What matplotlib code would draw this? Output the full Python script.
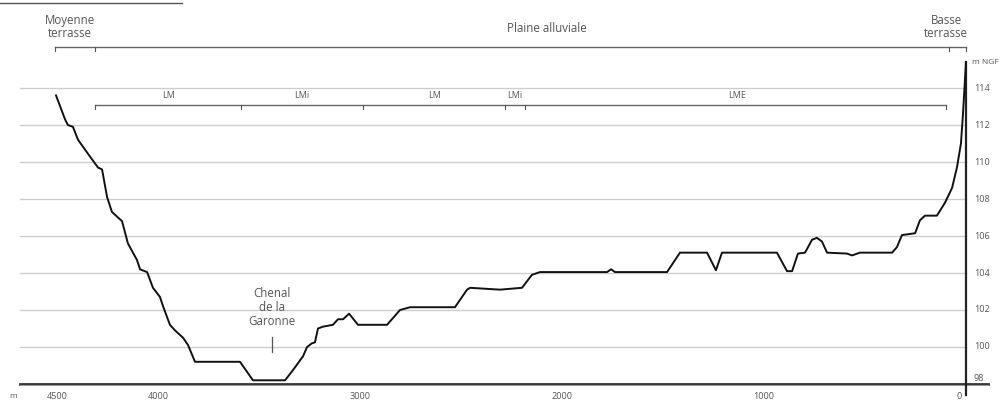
import matplotlib
matplotlib.use("Agg")
import matplotlib.pyplot as plt

plt.rcParams['font.family'] = ['Open Sans', 'DejaVu Sans']

# ---- data (distance in m from right bank, elevation in m NGF) ----
dist_m = [4505, 4460, 4446, 4421, 4396, 4337, 4297, 4277, 4252, 4228, 4198, 4178,
          4149, 4104, 4089, 4054, 4025, 3990, 3975, 3941, 3916, 3876, 3851, 3817,
          3594, 3530, 3371, 3332, 3282, 3262, 3238, 3223, 3208, 3183, 3134, 3109,
          3084, 3054, 3010, 2866, 2802, 2752, 2530, 2470, 2455, 2307, 2198, 2149,
          2109, 1777, 1757, 1738, 1480, 1416, 1282, 1238, 1208, 936, 886, 861,
          832, 797, 762, 738, 713, 688, 589, 564, 525, 366, 342, 317,
          252, 228, 203, 144, 104, 69, 45, 25, 15, 0]
elev_m = [113.6, 112.3, 112.0, 111.9, 111.2, 110.3, 109.7, 109.6, 108.1, 107.3, 107.0, 106.8,
          105.6, 104.7, 104.2, 104.05, 103.2, 102.7, 102.2, 101.2, 100.9, 100.5, 100.1, 99.2,
          99.2, 98.2, 98.2, 98.75, 99.5, 100.0, 100.2, 100.25, 101.0, 101.1, 101.2, 101.5,
          101.5, 101.8, 101.2, 101.2, 102.0, 102.15, 102.15, 103.1, 103.2, 103.1, 103.2, 103.9,
          104.05, 104.05, 104.2, 104.05, 104.05, 105.1, 105.1, 104.15, 105.1, 105.1, 104.1, 104.1,
          105.05, 105.1, 105.8, 105.9, 105.7, 105.1, 105.05, 104.95, 105.1, 105.1, 105.4, 106.05,
          106.15, 106.85, 107.1, 107.1, 107.8, 108.6, 109.7, 111.0, 112.6, 115.4]

x_ticks = [4500, 4000, 3000, 2000, 1000, 0]
y_ticks = [98, 100, 102, 104, 106, 108, 110, 112, 114]

# top brackets
units_bounds = [4510, 4312, 84, 0]
units_labels = ["Moyenne\nterrasse", "Plaine alluviale", "Basse\nterrasse"]
units_label_x = [4436, 2074, 99]
sub_bounds = [4312, 3589, 2985, 2282, 2183, 99]
sub_labels = ["LM", "LMi", "LM", "LMi", "LME"]
sub_label_x = [3950, 3287, 2629, 2233, 1134]

fig = plt.figure(figsize=(10.06, 4.01), dpi=100)
ax = fig.add_axes([0, 0, 1, 1])
ax.set_xlim(4782.2, -198.0)
ax.set_ylim(97.081, 118.757)
ax.axis('off')

txt = '#555555'
grid_c = '#cdcdcd'
fs = 8.3
fs_sub = 6.5
fs_tick = 6.6

# gridlines
for v in y_ticks[1:]:
    ax.plot([4683, 0], [v, v], color=grid_c, lw=1.0, zorder=1)

# bottom axis line
ax.plot([4683, -109], [98, 98], color='#333333', lw=2.0, zorder=3)
ax.plot([4683, -109], [97.93, 97.93], color='#999999', lw=0.8, zorder=3)
# right axis line
ax.plot([0, 0], [97.4, 115.4], color='#222222', lw=1.6, zorder=3)

# profile
ax.plot(dist_m, elev_m, color='#111111', lw=1.4, zorder=4, solid_joinstyle='round')

# y tick labels
for v in y_ticks:
    yy = v + (0.28 if v == 98 else 0.0)
    ax.text(-38, yy, str(v), fontsize=fs_tick, color=txt, ha='left', va='center')
ax.text(-30, 115.4, "m NGF", fontsize=fs_tick - 0.6, color=txt, ha='left', va='center')

# x tick labels
for t in x_ticks:
    xx = t + 35 if t == 0 else t
    ax.text(xx, 97.35, str(t), fontsize=fs_tick, color=txt, ha='center', va='center')
ax.text(4718, 97.35, "m", fontsize=fs_tick - 0.6, color=txt, ha='center', va='center')

# top bracket (geomorphological units)
yb1, tk = 116.22, 0.22
ax.plot([units_bounds[0], units_bounds[-1]], [yb1, yb1], color='#666666', lw=1.0)
for b in units_bounds:
    ax.plot([b, b], [yb1, yb1 - tk], color='#555555', lw=0.8)
for lab, lx in zip(units_labels, units_label_x):
    ax.text(lx, 117.3 if "\n" in lab else 117.19, lab, fontsize=fs, color=txt,
            ha='center', va='center', linespacing=1.05)

# second bracket (sub units)
yb2 = 113.08
ax.plot([sub_bounds[0], sub_bounds[-1]], [yb2, yb2], color='#666666', lw=1.0)
for b in sub_bounds:
    ax.plot([b, b], [yb2, yb2 - tk], color='#555555', lw=0.8)
for lab, lx in zip(sub_labels, sub_label_x):
    ax.text(lx, 113.6, lab, fontsize=fs_sub, color=txt, ha='center', va='center')

# channel annotation
ax.text(3436, 102.16, "Chenal\nde la\nGaronne", fontsize=fs, color=txt,
        ha='center', va='center', linespacing=1.1)
ax.plot([3436, 3436], [99.73, 100.54], color='#555555', lw=0.9)

# cut-off title underline at the very top
ax.plot([4782, 3881], [118.6, 118.6], color='#555555', lw=1.0)

fig.savefig("out.png", dpi=100)
